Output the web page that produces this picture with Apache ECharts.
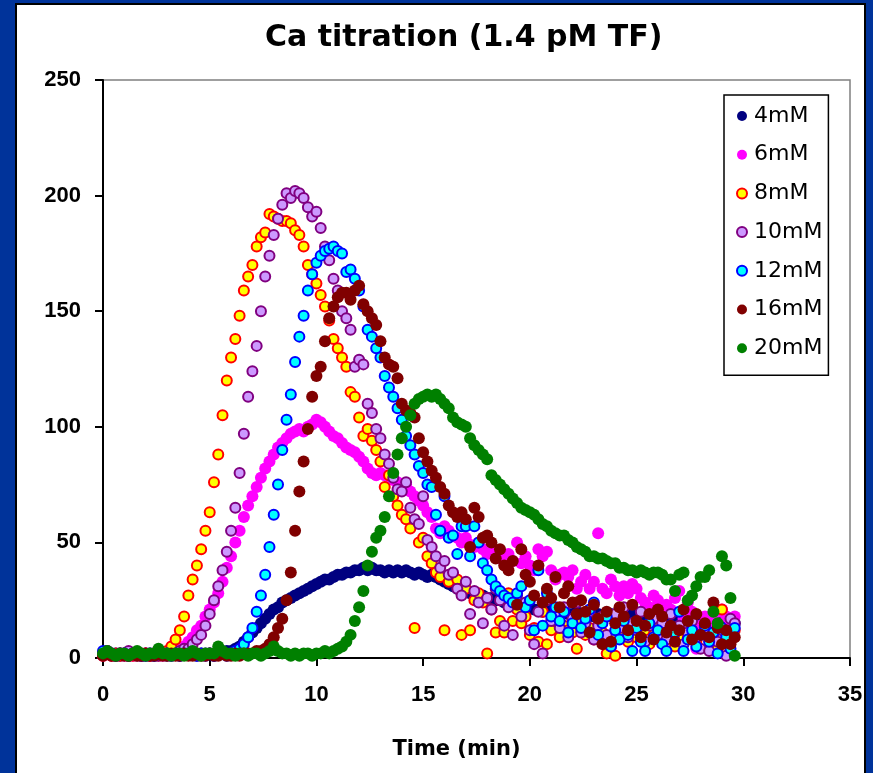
<!DOCTYPE html>
<html><head><meta charset="utf-8">
<script src="https://cdn.jsdelivr.net/npm/echarts@6/dist/echarts.min.js"></script>
<style>html,body{margin:0;padding:0;background:#00339a}#chart{width:873px;height:773px}</style>
</head><body><div id="chart"></div>
<script>
// Time grid (min)
const time = [
0,0.2,0.4,0.6,0.8, 1,1.2,1.4,1.6,1.8, 2,2.2,2.4,2.6,2.8, 3,3.2,3.4,3.6,3.8, 4,4.2,4.4,4.6,4.8,
5,5.2,5.4,5.6,5.8, 6,6.2,6.4,6.6,6.8, 7,7.2,7.4,7.6,7.8, 8,8.2,8.4,8.6,8.8, 9,9.2,9.4,9.6,9.8,
10,10.2,10.4,10.6,10.8, 11,11.2,11.4,11.6,11.8, 12,12.2,12.4,12.6,12.8, 13,13.2,13.4,13.6,13.8, 14,14.2,14.4,14.6,14.8,
15,15.2,15.4,15.6,15.8, 16,16.2,16.4,16.6,16.8, 17,17.2,17.4,17.6,17.8, 18,18.2,18.4,18.6,18.8, 19,19.2,19.4,19.6,19.8,
20,20.2,20.4,20.6,20.8, 21,21.2,21.4,21.6,21.8, 22,22.2,22.4,22.6,22.8, 23,23.2,23.4,23.6,23.8, 24,24.2,24.4,24.6,24.8,
25,25.2,25.4,25.6,25.8, 26,26.2,26.4,26.6,26.8, 27,27.2,27.4,27.6,27.8, 28,28.2,28.4,28.6,28.8, 29,29.2,29.4,29.6];

const ca4mM = [
2,3,2,2,1, 2,1,2,2,1, 2,1,1,2,2, 1,2,2,1,2, 2,2,1,2,2,
2,1,2,2,3, 3,4,5,7,9, 11,13,15,17,19, 21,22,24,25,26, 27,28,29,30,31,
32,33,34,34,35, 36,36,37,37,38, 38,39,38,39,38, 38,37,38,37,38, 37,38,37,36,37,
36,35,36,35,34, 33,32,31,30,30, 29,28,28,27,27, 26,26,25,25,24, 24,23,23,22,22,
22,21,21,20,21, 20,20,19,20,19, 19,20,18,19,19, 18,19,18,18,19, 18,19,17,18,19,
18,17,18,17,18, 17,18,17,16,17, 16,17,16,17,16, 16,15,16,15,16, 15,16,15,15];

const ca6mM = [
1,2,1,1,2, 1,2,1,2,1, 2,1,2,2,1, 2,3,3,4,5, 7,9,12,14,18,
21,24,28,33,39, 44,50,55,61,66, 70,74,78,82,85, 88,91,93,95,97, 98,99,98,100,101,
103,102,100,98,96, 95,93,91,90,89, 87,85,82,80,79, 80,79,78,77,76, 74,75,72,70,68,
66,63,61,56,54, 57,55,53,52,50, 52,49,48,50,47, 45,47,44,43,44, 45,42,50,41,44,
40,38,47,44,46, 38,34,36,37,35, 38,30,33,36,30, 33,54,30,28,34, 31,27,31,28,32,
30,26,24,22,27, 25,20,23,21,26, 29,17,24,20,4, 14,18,12,16,20, 21,18,15,18];

const ca8mM = [
1,2,1,2,1, 2,1,1,2,1, 2,1,2,1,2, 3,5,8,12,18, 27,34,40,47,55,
63,76,88,105,120, 130,138,148,159,165, 170,178,182,184,192, 191,190,189,189,188, 185,183,178,170,166,
162,157,152,146,138, 134,130,126,115,113, 104,96,99,94,90, 85,74,79,70,66, 62,60,56,13,50,
52,44,41,37,35, 12,33,36,34,10, 30,12,25,28,24, 2,21,11,16,11, 28,16,21,15,18,
10,13,7,20,6, 12,16,9,14,12, 11,4,15,10,13, 8,17,11,2,9, 1,12,15,7,11,
9,14,12,6,10, 16,8,11,13,5, 13,9,9,12,7, 10,14,8,6,4, 21,10,7,12];

const ca10mM = [
2,3,2,1,2, 2,3,2,1,2, 1,2,2,1,2, 2,1,2,3,4, 4,6,8,10,14,
19,25,31,38,46, 55,65,80,97,113, 124,135,150,165,174, 183,190,196,201,199, 202,201,199,195,191,
193,186,178,172,164, 159,150,147,142,126, 129,127,110,106,99, 95,88,84,78,73, 72,76,65,60,58,
70,51,48,44,39, 42,36,37,30,27, 33,19,29,24,15, 26,21,30,25,14, 22,10,27,18,24,
12,6,20,2,25, 16,19,13,22,9, 17,24,11,15,20, 8,14,18,10,5, 19,13,22,9,15,
12,20,7,14,17, 10,15,8,19,12, 14,6,11,16,9, 4,13,3,10,7, 12,1,17,15];

const ca12mM = [
3,2,2,1,2, 2,1,2,2,1, 1,2,1,2,2, 2,1,2,1,2, 2,2,1,2,1,
2,1,2,2,1, 2,3,4,6,9, 13,20,27,36,48, 62,75,90,103,114, 128,139,148,159,166,
171,174,176,177,178, 176,175,167,168,164, 159,152,142,139,134, 130,122,117,113,108, 103,96,92,88,83,
80,75,74,62,55, 70,52,53,45,57, 57,44,57,50,41, 38,34,31,29,27, 26,24,28,31,22,
25,12,38,14,28, 18,22,16,20,11, 15,19,13,17,21, 24,10,15,18,5, 12,8,16,10,3,
13,7,3,15,9, 12,6,3,14,11, 20,3,8,12,5, 10,14,7,11,2, 13,9,4,13];

const ca16mM = [
1,2,1,1,2, 1,1,2,1,1, 2,1,1,2,1, 1,2,1,1,2, 1,1,2,1,1,
2,1,1,2,1, 1,2,1,2,2, 2,3,3,4,6, 9,13,17,25,37, 55,72,85,99,113,
122,126,137,147,152, 156,158,158,155,159, 161,153,150,147,144, 137,130,127,126,121, 110,107,106,104,95,
89,85,81,78,74, 71,66,63,61,63, 60,48,65,61,52, 53,50,43,47,40, 38,42,23,47,36,
33,27,40,24,30, 26,35,22,28,31, 24,19,25,20,11, 23,17,6,20,7, 15,22,18,12,23,
16,9,14,19,8, 21,18,11,14,7, 12,21,16,8,19, 10,15,9,24,13, 6,12,6,9];

const ca20mM = [
2,3,2,1,2, 2,1,2,3,2, 1,2,2,4,2, 2,1,2,2,1, 2,3,2,1,2,
2,2,5,3,2, 2,1,2,2,1, 2,2,1,2,3, 5,3,2,2,1, 2,1,2,2,1,
2,2,3,2,3, 4,5,7,10,16, 22,29,40,46,52, 55,61,70,80,88, 95,100,105,110,112,
113,114,113,114,112, 110,108,104,102,101, 100,95,92,90,88, 86,79,77,75,73, 71,69,67,65,64,
63,62,60,58,57, 55,54,53,53,51, 50,48,47,46,44, 44,43,43,42,41, 41,39,39,38,38,
37,38,37,36,37, 37,36,34,34,29, 36,37,25,27,31, 35,35,38,20,15, 44,40,26,1];

const seriesNames = ['4mM','6mM','8mM','10mM','12mM','16mM','20mM'];
const seriesValues = [ca4mM, ca6mM, ca8mM, ca10mM, ca12mM, ca16mM, ca20mM];
const fills   = ['#000080','#FF00FF','#FFFF00','#CC99FF','#00FFFF','#800000','#008000'];
const borders = [null,null,'#FF0000','#800080','#0000FF',null,null];

const chart = echarts.init(document.getElementById('chart'), null, {renderer:'canvas'});

const series = seriesNames.map((name, k) => ({
  name: name,
  type: 'scatter',
  animation: false,
  symbol: 'circle',
  symbolSize: borders[k] ? 10 : 12,
  itemStyle: borders[k]
    ? {color: fills[k], borderColor: borders[k], borderWidth: 2, opacity: 1}
    : {color: fills[k], opacity: 1},
  emphasis: {disabled: true},
  data: time.map((t, i) => [t, seriesValues[k][i]])
}));

chart.setOption({
  animation: false,
  backgroundColor: '#00339a',
  graphic: [{
    type: 'rect', z: -100, silent: true,
    shape: {x: 16, y: 4, width: 849, height: 820},
    style: {fill: '#ffffff', stroke: '#000000', lineWidth: 2}
  }],
  title: {
    text: 'Ca titration (1.4 pM TF)',
    left: 260, top: 18,
    textStyle: {fontFamily: 'DejaVu Sans', fontWeight: 'bold', fontSize: 30, color: '#000'}
  },
  legend: {
    orient: 'vertical',
    left: 724, top: 95,
    padding: [9, 6, 15, 12],
    itemGap: 14.7,
    itemWidth: 14, itemHeight: 10,
    icon: 'circle',
    borderColor: '#000', borderWidth: 1.5,
    backgroundColor: '#fff',
    selectedMode: false,
    textStyle: {fontFamily: 'DejaVu Sans', fontSize: 22, lineHeight: 24, color: '#000'},
    data: seriesNames
  },
  grid: {
    left: 103, right: 23, top: 80, bottom: 115,
    show: true, borderColor: '#808080', borderWidth: 1.5, backgroundColor: '#fff'
  },
  xAxis: {
    type: 'value', min: 0, max: 35, interval: 5,
    name: 'Time (min)', nameLocation: 'middle', nameGap: 81,
    nameTextStyle: {fontFamily: 'DejaVu Sans', fontWeight: 'bold', fontSize: 21, color: '#000', padding: [0, 40, 0, 0]},
    axisLine: {show: true, onZero: false, lineStyle: {color: '#000', width: 2}},
    axisTick: {show: true, inside: false, length: 8, lineStyle: {color: '#000', width: 2}},
    axisLabel: {fontFamily: 'Liberation Sans', fontWeight: 'bold', fontSize: 22, color: '#000', margin: 26},
    splitLine: {show: false}
  },
  yAxis: {
    type: 'value', min: 0, max: 250, interval: 50,
    axisLine: {show: true, onZero: false, lineStyle: {color: '#000', width: 2}},
    axisTick: {show: true, inside: false, length: 8, lineStyle: {color: '#000', width: 2}},
    axisLabel: {fontFamily: 'Liberation Sans', fontWeight: 'bold', fontSize: 22, color: '#000', margin: 22},
    splitLine: {show: false}
  },
  series: series
});
</script>
</body></html>
